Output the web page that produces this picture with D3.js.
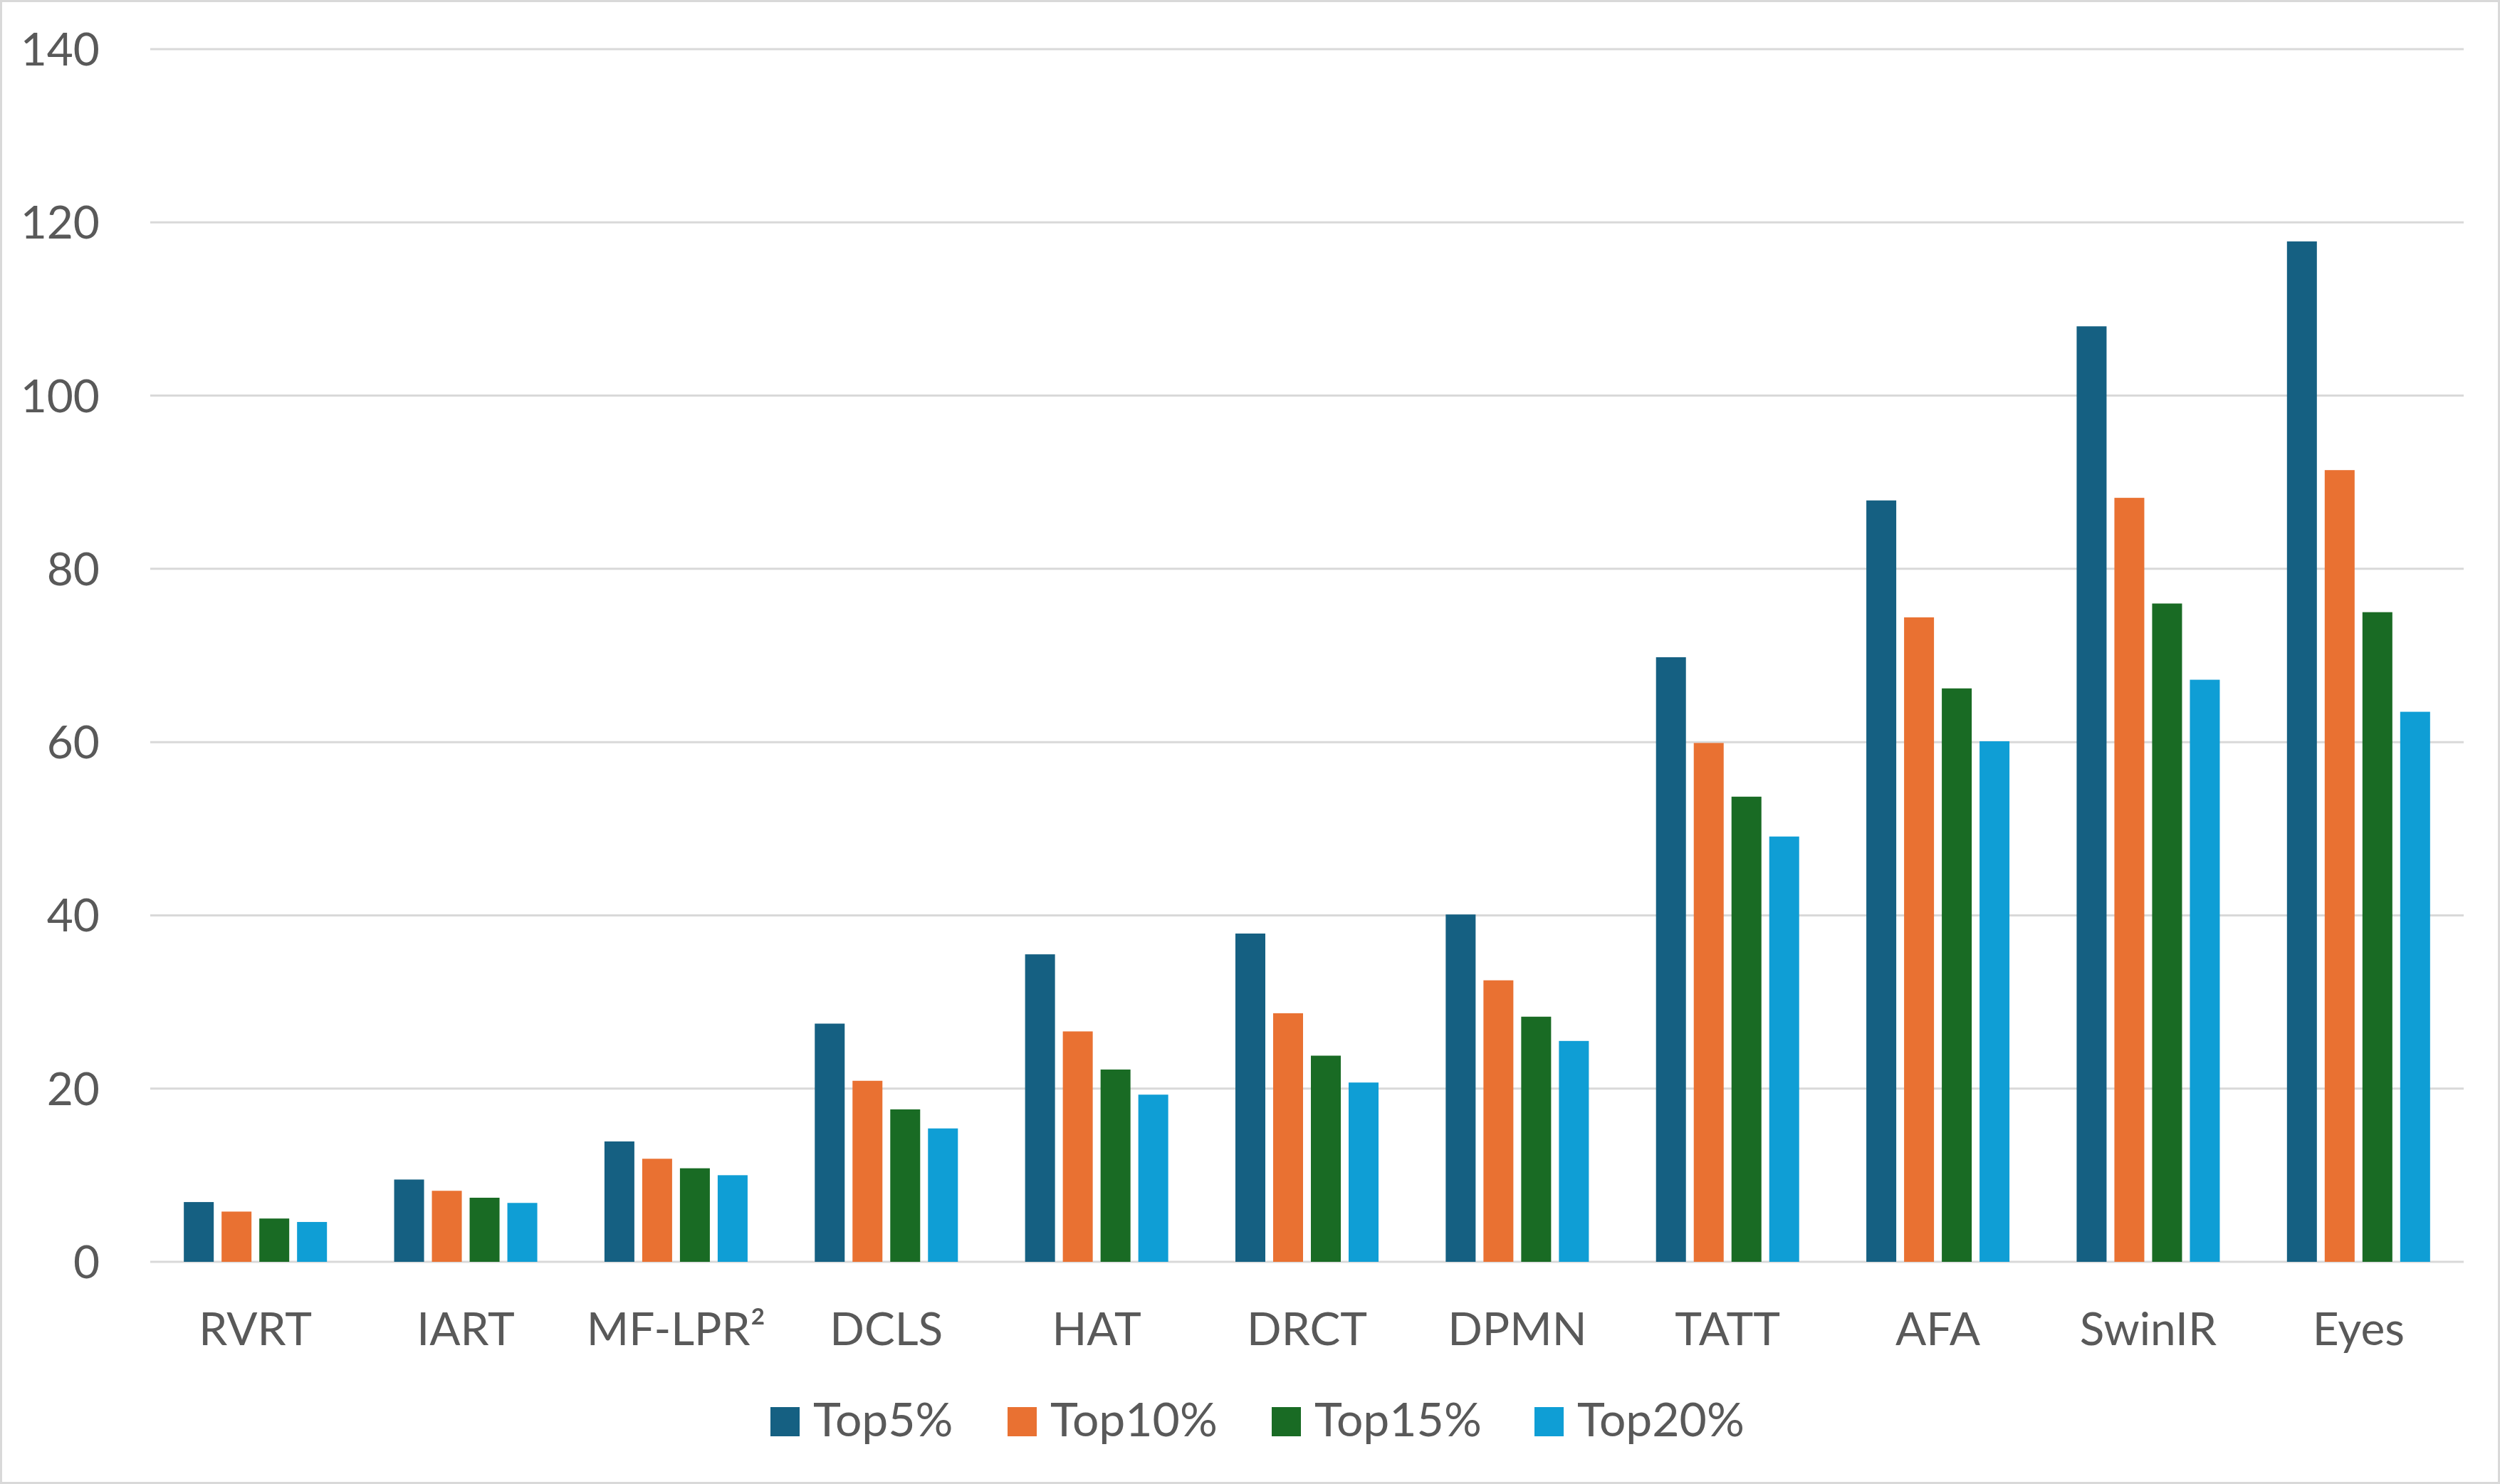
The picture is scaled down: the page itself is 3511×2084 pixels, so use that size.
<!DOCTYPE html>
<html>
<head>
<meta charset="utf-8">
<script src="https://cdn.jsdelivr.net/npm/d3@7"></script>
<style>
    body { margin: 0; background: #fff; }
    svg { display: block; }
</style>
</head>
<body>
<div id="chart"></div>
<script>
const categories = ["RVRT", "IART", "MF-LPR²", "DCLS", "HAT", "DRCT", "DPMN", "TATT", "AFA", "SwinIR", "Eyes"];
const seriesNames = ["Top5%", "Top10%", "Top15%", "Top20%"];
const top5 = [6.9, 9.5, 13.9, 27.5, 35.5, 37.9, 40.1, 69.8, 87.9, 108.0, 117.8];
const top10 = [5.8, 8.2, 11.9, 20.9, 26.6, 28.7, 32.5, 59.9, 74.4, 88.2, 91.4];
const top15 = [5.0, 7.4, 10.8, 17.6, 22.2, 23.8, 28.3, 53.7, 66.2, 76.0, 75.0];
const top20 = [4.6, 6.8, 10.0, 15.4, 19.3, 20.7, 25.5, 49.1, 60.1, 67.2, 63.5];
const yTicks = [0, 20, 40, 60, 80, 100, 120, 140];

(function() {
    const width = 3511;
    const height = 2084;
    const colors = ["#156082", "#E97132", "#196B24", "#0F9ED5"];
    const series = [top5, top10, top15, top20];
    const font = "Lato, 'Open Sans', sans-serif";
    const textColor = "#595959";
    const gridColor = "#d9d9d9";

    // plot area
    const left = 211, right = 3460, top = 69, bottom = 1772;

    const svg = d3.select("#chart").append("svg")
        .attr("width", width)
        .attr("height", height);

    // chart border
    svg.append("rect")
        .attr("x", 1.5).attr("y", 1.5)
        .attr("width", width - 3).attr("height", height - 3)
        .attr("fill", "#fff")
        .attr("stroke", gridColor)
        .attr("stroke-width", 3);

    const y = d3.scaleLinear().domain([0, 140]).range([bottom, top]);
    const x0 = d3.scaleBand().domain(categories).range([left, right]);
    const x1 = d3.scaleBand().domain(seriesNames)
        .range([0, x0.bandwidth()])
        .paddingInner(0.2075)
        .paddingOuter(0.89);

    // gridlines
    svg.append("g")
        .selectAll("line")
        .data(yTicks)
        .enter()
        .append("line")
        .attr("x1", left)
        .attr("x2", right)
        .attr("y1", d => y(d))
        .attr("y2", d => y(d))
        .attr("stroke", gridColor)
        .attr("stroke-width", 3);

    // y labels
    svg.append("g")
        .selectAll("text")
        .data(yTicks)
        .enter()
        .append("text")
        .attr("x", 140)
        .attr("y", d => y(d))
        .attr("dy", "0.36em")
        .attr("text-anchor", "end")
        .attr("font-family", font)
        .attr("font-size", 64)
        .attr("fill", textColor)
        .text(d => d);

    // bars
    const rows = categories.map((c, i) => ({
        cat: c,
        values: series.map((s, j) => ({ name: seriesNames[j], value: s[i], color: colors[j] }))
    }));

    svg.append("g")
        .selectAll("g")
        .data(rows)
        .enter()
        .append("g")
        .attr("transform", d => "translate(" + x0(d.cat) + ",0)")
        .selectAll("rect")
        .data(d => d.values)
        .enter()
        .append("rect")
        .attr("x", d => x1(d.name))
        .attr("width", x1.bandwidth())
        .attr("y", d => y(d.value))
        .attr("height", d => y(0) - y(d.value))
        .attr("fill", d => d.color);

    // category labels
    svg.append("g")
        .selectAll("text")
        .data(categories)
        .enter()
        .append("text")
        .attr("x", d => x0(d) + x0.bandwidth() / 2)
        .attr("y", 1889)
        .attr("text-anchor", "middle")
        .attr("font-family", font)
        .attr("font-size", 64)
        .attr("fill", textColor)
        .text(d => d);

    // legend (swatch left edges as in the original layout)
    const legendX = [1082, 1415, 1786, 2155];
    const items = svg.append("g")
        .selectAll("g")
        .data(seriesNames)
        .enter()
        .append("g")
        .attr("transform", (d, i) => "translate(" + legendX[i] + ",0)");

    items.append("rect")
        .attr("width", 41)
        .attr("height", 41)
        .attr("y", 1976)
        .attr("fill", (d, i) => colors[i]);

    items.append("text")
        .attr("x", 60)
        .attr("y", 2017)
        .attr("font-family", font)
        .attr("font-size", 66)
        .attr("fill", textColor)
        .text(d => d);
})();
</script>
</body>
</html>
